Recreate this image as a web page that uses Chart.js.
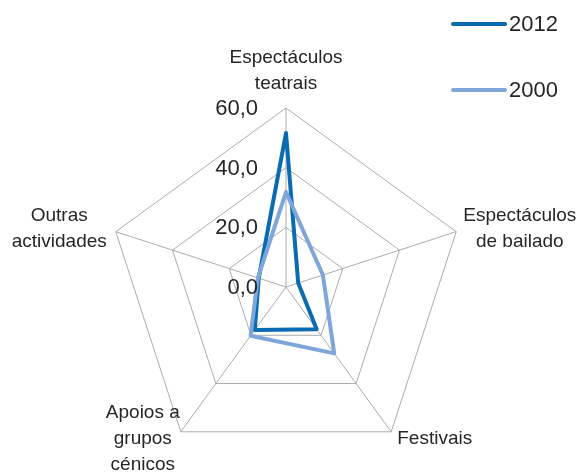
<!DOCTYPE html>
<html>
<head>
<meta charset="utf-8">
<script src="https://cdn.jsdelivr.net/npm/chart.js@4/dist/chart.umd.min.js"></script>
<style>
  html, body { margin: 0; padding: 0; background: #ffffff; }
  #wrap { width: 580px; height: 473px; }
</style>
</head>
<body>
<div id="wrap"><canvas id="radar" width="580" height="473"></canvas></div>
<script>
// Categories (multi-line labels) and series values
const categories = [
  ["Espectáculos", "teatrais"],
  ["Espectáculos", "de bailado"],
  ["Festivais"],
  ["Apoios a", "grupos", "cénicos"],
  ["Outras", "actividades"]
];
const seriesNames = ["2012", "2000"];
const values2012 = [51.6, 4.3, 17.5, 17.8, 9.6];
const values2000 = [31.8, 13.0, 27.5, 20.2, 9.9];
const tickValues = [0, 20, 40, 60];
const tickLabels = ["0,0", "20,0", "40,0", "60,0"];

const colors = ["#0A6BB3", "#7EA6D8"];
const textColor = "#262626";
const FONT = "'Liberation Sans', Arial, sans-serif";

// Tick labels to the left of the vertical axis
const tickLabelPlugin = {
  id: 'tickLabelsLeft',
  afterDraw(chart) {
    const s = chart.scales.r, ctx = chart.ctx;
    ctx.save();
    ctx.font = "22px " + FONT;
    ctx.fillStyle = textColor;
    ctx.textAlign = "right";
    ctx.textBaseline = "middle";
    tickValues.forEach((v, i) => {
      const y = s.yCenter - s.getDistanceFromCenterForValue(v);
      ctx.fillText(tickLabels[i], s.xCenter - 28, y + 1);
    });
    ctx.restore();
  }
};

// Category labels around the outer ring, centered multi-line blocks
const pointLabelPlugin = {
  id: 'pointLabelsBlock',
  afterDraw(chart) {
    const s = chart.scales.r, ctx = chart.ctx;
    const lh = 26;
    ctx.save();
    ctx.font = "19px " + FONT;
    ctx.fillStyle = textColor;
    ctx.textAlign = "center";
    ctx.textBaseline = "middle";
    categories.forEach((lines, i) => {
      const p = s.getPointPosition(i, s.drawingArea);
      const dx = p.x - s.xCenter, dy = p.y - s.yCenter;
      const maxW = Math.max(...lines.map(t => ctx.measureText(t).width));
      const n = lines.length;
      let cx, cy;
      if (Math.abs(dx) < 1) {
        cx = p.x;
        cy = p.y - 24 - (n - 1) * lh / 2;
      } else {
        const pad = dy > 0 ? (dx > 0 ? 6 : 1) : (dx > 0 ? 7 : 9);
        cx = dx > 0 ? p.x + pad + maxW / 2 : p.x - pad - maxW / 2;
        cy = dy > 0 ? p.y + 7 : p.y - 3;
      }
      lines.forEach((t, k) => {
        ctx.fillText(t, cx, cy + (k - (n - 1) / 2) * lh);
      });
    });
    ctx.restore();
  }
};

// Legend at the top right
const legendPlugin = {
  id: 'sideLegend',
  afterDraw(chart) {
    const ctx = chart.ctx;
    ctx.save();
    chart.data.datasets.forEach((ds, i) => {
      const y = 24 + i * 66;
      ctx.strokeStyle = ds.borderColor;
      ctx.lineWidth = 4;
      ctx.lineCap = "round";
      ctx.beginPath();
      ctx.moveTo(453, y);
      ctx.lineTo(505, y);
      ctx.stroke();
      ctx.font = "22px " + FONT;
      ctx.fillStyle = textColor;
      ctx.textAlign = "left";
      ctx.textBaseline = "middle";
      ctx.fillText(ds.label, 509, y + 1);
    });
    ctx.restore();
  }
};

new Chart(document.getElementById('radar'), {
  type: 'radar',
  data: {
    labels: categories,
    datasets: [
      { label: seriesNames[0], data: values2012, borderColor: colors[0], order: 1 },
      { label: seriesNames[1], data: values2000, borderColor: colors[1], order: 0 }
    ]
  },
  options: {
    responsive: false,
    animation: false,
    devicePixelRatio: 1,
    layout: { padding: { left: 107, right: 115, top: 108, bottom: 7 } },
    elements: {
      line: { borderWidth: 4, fill: false, tension: 0, borderJoinStyle: 'round' },
      point: { radius: 0, hoverRadius: 0 }
    },
    plugins: { legend: { display: false }, tooltip: { enabled: false } },
    scales: {
      r: {
        min: 0,
        max: 60,
        ticks: { stepSize: 20, display: false },
        grid: { color: '#ABABAB', lineWidth: 1 },
        angleLines: { color: '#ABABAB', lineWidth: 1 },
        pointLabels: { display: false }
      }
    }
  },
  plugins: [tickLabelPlugin, pointLabelPlugin, legendPlugin]
});
</script>
</body>
</html>
